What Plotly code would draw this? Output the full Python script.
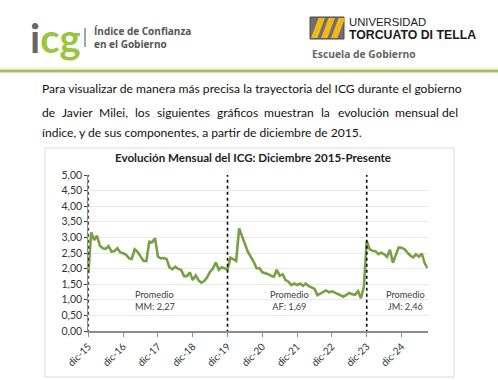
import plotly.graph_objects as go
import pandas as pd

# ---------------- data ----------------
icg_values = [
    1.85, 3.16, 2.92, 3.05, 2.73, 2.65, 2.63, 2.72, 2.54, 2.56, 2.65, 2.52,
    2.49, 2.44, 2.33, 2.31, 2.62, 2.54, 2.39, 2.25, 2.24, 2.86, 2.84, 2.97,
    2.38, 2.33, 2.34, 2.31, 2.04, 1.98, 2.06, 1.99, 1.96, 1.76, 1.76, 1.88,
    1.63, 1.78, 1.62, 1.55, 1.60, 1.72, 1.90, 2.00, 2.20, 1.96, 2.04, 2.00,
    1.97, 2.35, 2.29, 2.25, 3.29, 3.02, 2.75, 2.54, 2.38, 2.22, 2.01, 2.01,
    1.88, 1.86, 1.82, 1.77, 1.74, 1.96, 1.77, 1.82, 1.63, 1.58, 1.47, 1.52,
    1.47, 1.52, 1.45, 1.52, 1.44, 1.40, 1.35, 1.15, 1.21, 1.26, 1.30, 1.24,
    1.27, 1.23, 1.18, 1.15, 1.10, 1.16, 1.22, 1.18, 1.16, 1.28, 1.05, 1.42,
    2.88, 2.62, 2.57, 2.56, 2.46, 2.51, 2.46, 2.38, 2.60, 2.19, 2.46, 2.68,
    2.67, 2.62, 2.51, 2.42, 2.36, 2.46, 2.38, 2.48, 2.17, 2.01,
]
months = pd.date_range("2015-12-01", periods=len(icg_values), freq="MS")

tick_dates = ["2015-12-01", "2016-12-01", "2017-12-01", "2018-12-01", "2019-12-01",
              "2020-12-01", "2021-12-01", "2022-12-01", "2023-12-01", "2024-12-01"]
tick_labels = ["dic-15", "dic-16", "dic-17", "dic-18", "dic-19",
               "dic-20", "dic-21", "dic-22", "dic-23", "dic-24"]
gov_starts = ["2015-12-01", "2019-12-01", "2023-12-01"]
avg_labels = ["Promedio<br>MM: 2,27", "Promedio<br>AF: 1,69", "Promedio<br>JM: 2,46"]

title_text = "Evolución Mensual del ICG: Diciembre 2015-Presente"
para_line1 = "Para visualizar de manera más precisa la trayectoria del ICG durante el gobierno"
para_line2 = "de Javier Milei, los siguientes gráficos muestran la evolución mensual del"
para_line3 = "índice, y de sus componentes, a partir de diciembre de 2015."

# ---------------- geometry helpers ----------------
W, H = 498, 380
def px(x):
    return x / W
def py(y):
    return 1 - y / H

TXT = "Lato, Carlito, Calibri, sans-serif"
GREEN = "#77A044"

# approximate glyph advance widths (em) used only to justify a text line
GLYPH = {
    'a': .50, 'b': .55, 'c': .45, 'd': .55, 'e': .52, 'f': .32, 'g': .49, 'h': .55,
    'i': .24, 'j': .25, 'k': .48, 'l': .24, 'm': .83, 'n': .55, 'o': .55, 'p': .55,
    'q': .55, 'r': .36, 's': .41, 't': .35, 'u': .55, 'v': .47, 'w': .74, 'x': .45,
    'y': .47, 'z': .42, ',': .26, '.': .26, 'J': .33, 'M': .89, 'á': .50, 'ó': .55,
}
def word_w(w, size):
    return sum(GLYPH.get(c, .52) for c in w) * size

fig = go.Figure()
fig.add_trace(go.Scatter(
    x=months, y=icg_values, mode="lines",
    line=dict(color=GREEN, width=2.6), hoverinfo="skip", showlegend=False))

x_left, x_right = 88.3, 427.7
fig.update_layout(
    width=W, height=H, margin=dict(l=0, r=0, t=0, b=0, pad=0, autoexpand=False),
    paper_bgcolor="white", plot_bgcolor="white",
    separators=",.",
    showlegend=False,
    xaxis=dict(
        domain=[px(x_left), px(x_right)], automargin=False,
        range=[months[0], months[-1]],
        tickvals=tick_dates, ticktext=tick_labels, tickangle=-45,
        showgrid=False, zeroline=False,
        showline=True, linecolor="#8c8c8c", linewidth=1.5,
        ticks="outside", ticklen=4, tickcolor="#8c8c8c",
        tickfont=dict(family=TXT, size=10, color="#333333"),
    ),
    yaxis=dict(
        domain=[py(331), py(175)], automargin=False,
        range=[0, 5], dtick=0.5, tickformat=".2f",
        showgrid=True, gridcolor="#e8e8e8", gridwidth=1,
        zeroline=False, showline=True, linecolor="#8c8c8c", linewidth=1,
        ticks="outside", ticklen=3, tickcolor="#404040",
        tickfont=dict(family=TXT, size=10.5, color="#333333"),
    ),
)

shapes = []
for d in gov_starts:
    shapes.append(dict(type="line", xref="x", yref="y", x0=d, x1=d, y0=-0.06, y1=5,
                       line=dict(color="black", width=1.6, dash="dot"), layer="above"))

shapes.append(dict(type="rect", xref="paper", yref="paper",
                   x0=px(45), x1=px(454), y0=py(377), y1=py(148),
                   line=dict(color="#d9d9d9", width=1), layer="below"))
shapes.append(dict(type="line", xref="paper", yref="paper", x0=0, x1=1, y0=py(68), y1=py(68),
                   line=dict(color="#f3f3d6", width=1.5)))
shapes.append(dict(type="line", xref="paper", yref="paper", x0=0, x1=1, y0=py(71), y1=py(71),
                   line=dict(color="#a3c05a", width=3)))
shapes.append(dict(type="line", xref="paper", yref="paper", x0=px(85), x1=px(85), y0=py(28), y1=py(47),
                   line=dict(color="#8a8a8a", width=1.5)))
shapes.append(dict(type="rect", xref="paper", yref="paper", x0=px(310), x1=px(344), y0=py(39), y1=py(17),
                   fillcolor="#6e6e6e", line=dict(color="#4d4d4d", width=1)))
for i in range(3):
    bl = 311 + i * 10
    path = "M {:.5f},{:.5f} L {:.5f},{:.5f} L {:.5f},{:.5f} L {:.5f},{:.5f} Z".format(
        px(bl), py(38), px(bl + 6.5), py(38), px(bl + 14), py(18), px(bl + 7.5), py(18))
    shapes.append(dict(type="path", xref="paper", yref="paper", path=path,
                       fillcolor="#F2B81A", line=dict(width=0)))
fig.update_layout(shapes=shapes)

ann = []
def add_text(text, x, y, size, color="#000000", xanchor="left", yanchor="middle",
             family=TXT, bold=False, align="left"):
    if bold:
        text = "<b>" + text + "</b>"
    ann.append(dict(text=text, xref="paper", yref="paper", x=px(x), y=py(y),
                    xanchor=xanchor, yanchor=yanchor, showarrow=False, align=align,
                    font=dict(family=family, size=size, color=color)))

ann.append(dict(text="<span style='color:#666666'>i</span><span style='color:#9CC43C'>cg</span>",
                xref="paper", yref="paper", x=px(28), y=py(38), xanchor="left", yanchor="middle",
                showarrow=False, font=dict(family="Lato, sans-serif", size=40, weight=700)))
add_text("Índice de Confianza", 92, 31.5, 10, color="#555555", family="Open Sans, sans-serif", bold=True)
add_text("en el Gobierno", 92, 44.5, 10, color="#555555", family="Open Sans, sans-serif", bold=True)
add_text("UNIVERSIDAD", 347, 22, 11.3, color="#1a1a1a", family="Liberation Sans, Arial, sans-serif")
add_text("TORCUATO DI TELLA", 347, 34.5, 12.3, color="#1a1a1a", family="Liberation Sans, Arial, sans-serif", bold=True)
add_text("Escuela de Gobierno", 310, 54.5, 10.3, color="#666666", family="Open Sans, sans-serif", bold=True)

# paragraph
PSIZE = 12.1
PX0, PX1 = 39.5, 460
add_text(para_line1, PX0, 89, PSIZE, color="#111111")
words = para_line2.split(" ")
widths = [word_w(w, PSIZE) for w in words]
gap = (PX1 - PX0 - sum(widths)) / (len(words) - 1)
xx = PX0
for k, (w, ww) in enumerate(zip(words, widths)):
    if k == len(words) - 1:
        add_text(w, PX1, 112, PSIZE, color="#111111", xanchor="right")
    else:
        add_text(w, xx, 112, PSIZE, color="#111111")
    xx += ww + gap
add_text(para_line3, PX0, 132, PSIZE, color="#111111")

add_text(title_text, 253, 158, 11.6, color="#222222", xanchor="center", bold=True)

add_text(avg_labels[0], 133, 300, 9.2, color="#404040")
add_text(avg_labels[1], 289, 300, 9.2, color="#404040", xanchor="center", align="center")
add_text(avg_labels[2], 405, 300, 9.2, color="#404040", xanchor="center", align="center")

fig.update_layout(annotations=ann)
fig.write_html("out.html", config={"displayModeBar": False},
               post_script="document.body.style.margin='0';document.body.style.padding='0';")
